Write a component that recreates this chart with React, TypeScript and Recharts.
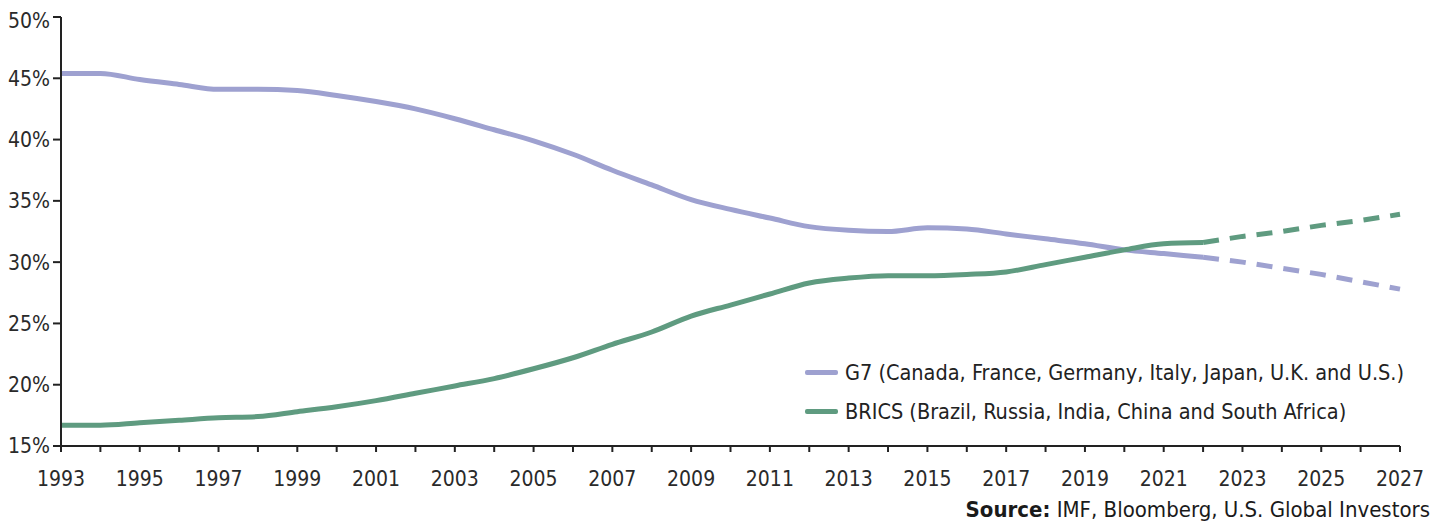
import React from 'react';
import { LineChart, Line, XAxis, YAxis } from 'recharts';

// share of world GDP (PPP), %
const years = [
  1993, 1994, 1995, 1996, 1997, 1998, 1999, 2000, 2001, 2002,
  2003, 2004, 2005, 2006, 2007, 2008, 2009, 2010, 2011, 2012,
  2013, 2014, 2015, 2016, 2017, 2018, 2019, 2020, 2021, 2022,
];
const g7 = [
  45.4, 45.4, 44.9, 44.5, 44.1, 44.1, 44.0, 43.6, 43.1, 42.5,
  41.7, 40.8, 39.9, 38.8, 37.5, 36.3, 35.1, 34.3, 33.6, 32.9,
  32.6, 32.5, 32.8, 32.7, 32.3, 31.9, 31.5, 31.0, 30.7, 30.4,
];
const brics = [
  16.7, 16.7, 16.9, 17.1, 17.3, 17.4, 17.8, 18.2, 18.7, 19.3,
  19.9, 20.5, 21.3, 22.2, 23.3, 24.3, 25.6, 26.5, 27.4, 28.3,
  28.7, 28.9, 28.9, 29.0, 29.2, 29.8, 30.4, 31.0, 31.5, 31.6,
];

// IMF projections (dashed)
const projYears = [2022, 2023, 2024, 2025, 2026, 2027];
const g7Proj = [30.4, 30.0, 29.5, 29.0, 28.4, 27.8];
const bricsProj = [31.6, 32.1, 32.5, 33.0, 33.4, 33.9];

const yTicks = [15, 20, 25, 30, 35, 40, 45, 50];
const xTicks = Array.from({ length: 35 }, (_, i) => 1993 + i);

const G7_COLOR = '#9ea1d0';
const BRICS_COLOR = '#5f9b80';
const FONT = '"DejaVu Sans", sans-serif';
const tickStyle = { fontFamily: FONT, fontSize: 21, fill: '#2a2a2a', fontStretch: 'condensed' };

const g7Label = 'G7 (Canada, France, Germany, Italy, Japan, U.K. and U.S.)';
const bricsLabel = 'BRICS (Brazil, Russia, India, China and South Africa)';

const data = xTicks.map((year) => {
  const i = years.indexOf(year);
  const p = projYears.indexOf(year);
  return {
    year,
    g7: i >= 0 ? g7[i] : null,
    brics: i >= 0 ? brics[i] : null,
    g7Proj: p >= 0 ? g7Proj[p] : null,
    bricsProj: p >= 0 ? bricsProj[p] : null,
  };
});

export default function App() {
  return (
    <div style={{ position: 'relative', width: 1430, height: 519, fontFamily: FONT, fontStretch: 'condensed' }}>
      <LineChart
        width={1430}
        height={500}
        data={data}
        margin={{ top: 9, right: 38, left: 0, bottom: 0 }}
      >
        <XAxis
          dataKey="year"
          type="number"
          domain={[1993, 2027]}
          ticks={xTicks}
          interval={0}
          tickFormatter={(v) => ((v - 1993) % 2 === 0 ? String(v) : '')}
          axisLine={{ stroke: '#222', strokeWidth: 2 }}
          tickLine={{ stroke: '#222', strokeWidth: 2 }}
          tickSize={6}
          tickMargin={19}
          height={62}
          tick={tickStyle}
        />
        <YAxis
          domain={[15, 50]}
          ticks={yTicks}
          tickFormatter={(v) => `${v}%`}
          axisLine={{ stroke: '#222', strokeWidth: 2 }}
          tickLine={{ stroke: '#222', strokeWidth: 2 }}
          tickSize={8}
          tickMargin={3}
          width={53}
          tick={tickStyle}
        />
        <Line dataKey="g7" stroke={G7_COLOR} strokeWidth={5} dot={false} type="monotone" isAnimationActive={false} />
        <Line dataKey="brics" stroke={BRICS_COLOR} strokeWidth={5} dot={false} type="monotone" isAnimationActive={false} />
        <Line dataKey="g7Proj" stroke={G7_COLOR} strokeWidth={5} strokeDasharray="16 11" dot={false} type="linear" isAnimationActive={false} />
        <Line dataKey="bricsProj" stroke={BRICS_COLOR} strokeWidth={5} strokeDasharray="16 11" dot={false} type="linear" isAnimationActive={false} />
      </LineChart>
      <div style={{ position: 'absolute', left: 797, top: 345, fontSize: 21.5, color: '#222', whiteSpace: 'nowrap' }}>
        {[
          { label: g7Label, color: G7_COLOR },
          { label: bricsLabel, color: BRICS_COLOR },
        ].map((item) => (
          <div key={item.label} style={{ display: 'flex', alignItems: 'center', height: 39 }}>
            <span style={{ width: 33, height: 5, background: item.color, marginRight: 7, borderRadius: 2 }} />
            <span>{item.label}</span>
          </div>
        ))}
      </div>
      <div
        style={{
          position: 'absolute',
          right: 8,
          top: 489,
          fontSize: 22,
          color: '#1a1a1a',
          whiteSpace: 'nowrap',
        }}
      >
        <b>Source:</b> IMF, Bloomberg, U.S. Global Investors
      </div>
    </div>
  );
}
